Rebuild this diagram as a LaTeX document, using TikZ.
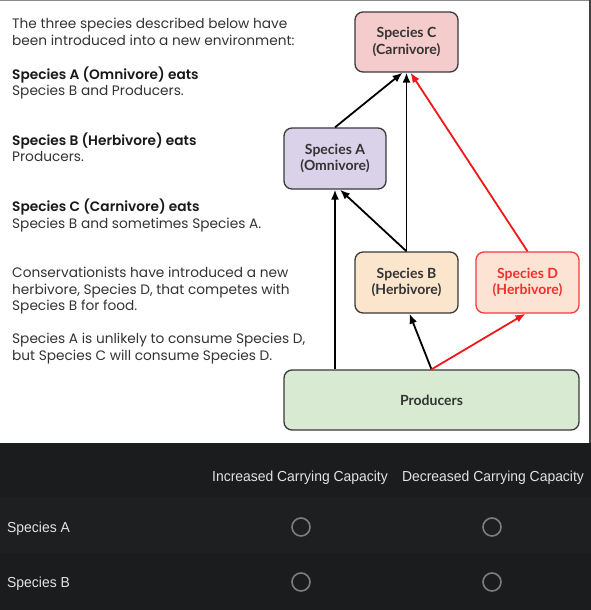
\documentclass[tikz,border=0pt]{standalone}
\usepackage{fontspec}
\usetikzlibrary{arrows.meta}
\setmainfont{Poppins}[BoldFont={Poppins SemiBold}]
\newfontfamily\boxfont{Lato}
\newfontfamily\tblfont[FakeStretch=0.96]{Liberation Sans}
\definecolor{pinkC}{HTML}{F4CCCC}
\definecolor{lavA}{HTML}{D9D2E9}
\definecolor{peachB}{HTML}{FCE5CD}
\definecolor{peachD}{HTML}{FCE3D3}
\definecolor{greenP}{HTML}{D9EAD3}
\definecolor{boxline}{HTML}{3A3A3A}
\definecolor{textgray}{HTML}{333333}
\definecolor{redD}{HTML}{F01818}
\definecolor{darkA}{HTML}{1B1C1E}
\definecolor{darkB}{HTML}{1D1F21}
\definecolor{circgray}{HTML}{7E7E7E}
\definecolor{tbltext}{HTML}{E3E3E3}
\definecolor{edgegray}{HTML}{8A8A8A}
\begin{document}
\begin{tikzpicture}[x=1pt,y=-1pt,
  box/.style={draw=boxline, line width=1.3pt, rounded corners=8pt, inner sep=0pt, align=center,
    font=\boxfont\bfseries\fontsize{14}{16.5}\selectfont, text=textgray},
  arr/.style={line width=1.8pt, -{Latex[length=10pt,width=8pt]}},
  para/.style={anchor=base west, inner sep=0pt, font=\fontsize{13.7}{16}\selectfont, text=textgray},
  parab/.style={para, font=\bfseries\fontsize{13.7}{16}\selectfont, text=black!90},
  tbl/.style={font=\tblfont\fontsize{14.5}{17}\selectfont, text=tbltext, inner sep=0pt},
  radio/.style={circle, draw=circgray, line width=1.6pt, minimum size=18pt, inner sep=0pt}
]
\useasboundingbox (0,0) rectangle (591,610);
\fill[white] (0,0) rectangle (591,443);
\fill[edgegray] (0,0) rectangle (591,1.3);
\fill[black!75] (588.5,0) rectangle (591,443);
\fill[darkA] (0,443) rectangle (591,497);
\fill[darkB] (0,497) rectangle (591,553);
\fill[darkA] (0,553) rectangle (591,610);

% left text
\node[para] (t1) at (12,29) {The three species described below have};
\node[para] (t2) at (12,46) {been introduced into a new environment:};
\node[parab] (t3) at (12,79) {Species A (Omnivore) eats};
\node[para] (t4) at (12,95) {Species B and Producers.};
\node[parab] (t5) at (12,145) {Species B (Herbivore) eats};
\node[para] (t6) at (12,161) {Producers.};
\node[parab] (t7) at (12,211) {Species C (Carnivore) eats};
\node[para] (t8) at (12,228) {Species B and sometimes Species A.};
\node[para] (t9) at (12,277) {Conservationists have introduced a new};
\node[para] (t10) at (12,294) {herbivore, Species D, that competes with};
\node[para] (t11) at (12,310) {Species B for food.};
\node[para] (t12) at (12,343) {Species A is unlikely to consume Species D,};
\node[para] (t13) at (12,360) {but Species C will consume Species D.};

% boxes
\node[box, fill=pinkC, minimum width=103pt, minimum height=60pt] (C) at (406.5,42) {Species C\\(Carnivore)};
\node[box, fill=lavA, minimum width=102pt, minimum height=61pt] (A) at (335,158.5) {Species A\\(Omnivore)};
\node[box, fill=peachB, minimum width=103pt, minimum height=61pt] (B) at (406.5,282.5) {Species B\\(Herbivore)};
\node[box, fill=peachD, draw=redD!85, text=redD!90, minimum width=103pt, minimum height=61pt] (D) at (527.5,282.5) {Species D\\(Herbivore)};
\node[box, fill=greenP, minimum width=295pt, minimum height=60pt] (P) at (431.5,400) {Producers};

% arrows
\draw[arr] (A.north) -- ([xshift=-4pt]C.south);
\draw[arr] (B.north) -- (C.south);
\draw[arr] (B.north) -- ([xshift=5pt]A.south);
\draw[arr] (A.south |- P.north) -- (A.south);
\draw[arr] (P.north) -- ([xshift=3pt]B.south);
\draw[arr, draw=redD, fill=redD] (P.north) -- ([xshift=-2pt]D.south);
\draw[arr, draw=redD, fill=redD] (D.north) -- ([xshift=4pt]C.south);

% table
\node[tbl] (h1) at (300,478) {Increased Carrying Capacity};
\node[tbl] (h2) at (493,478) {Decreased Carrying Capacity};
\node[tbl, anchor=west] (rA) at (7,529) {Species A};
\node[tbl, anchor=west] (rB) at (7,584) {Species B};
\node[radio] (a1) at (301,527) {};
\node[radio] (a2) at (492,527) {};
\node[radio] (b1) at (301,582) {};
\node[radio] (b2) at (492,582) {};
\end{tikzpicture}
\end{document}
